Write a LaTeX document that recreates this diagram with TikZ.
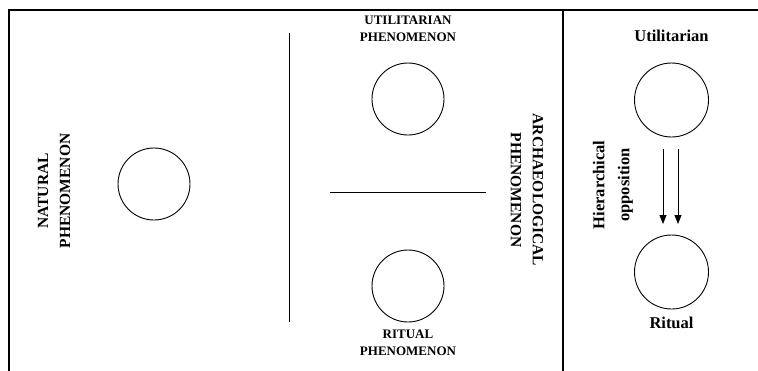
\documentclass[tikz,border=0pt]{standalone}
\usepackage{fontspec}
\setmainfont{Liberation Serif}
\usetikzlibrary{arrows.meta}
\begin{document}
\begin{tikzpicture}[x=1pt,y=-1pt,
  circ/.style={draw, circle, minimum size=72pt, inner sep=0pt, line width=0.9pt},
  caps/.style={font=\bfseries\fontsize{13}{17}\selectfont, align=center, inner sep=0pt},
  vcap/.style={font=\bfseries\fontsize{15.5}{22}\selectfont, align=center, inner sep=0pt},
  big/.style={font=\bfseries\fontsize{16.5}{25}\selectfont, align=center, inner sep=0pt},
  frame/.style={line width=1.6pt},
  thin/.style={line width=0.9pt},
  arr/.style={line width=0.9pt, -{Triangle[length=9pt,width=7pt]}}]
\useasboundingbox (0,0) rectangle (758,370);
% frame
\coordinate (ftl) at (9,10);
\coordinate (fbl) at (9,372);
\coordinate (ftr) at (760,10);
\coordinate (dt) at (563,10);
\coordinate (db) at (563,372);
\draw[frame] (fbl) -- (ftl) -- (ftr);
\draw[line width=2pt] (dt) -- (db);
% separators
\coordinate (vt) at (289,33);
\coordinate (vb) at (289,322);
\coordinate (hl) at (330,192);
\coordinate (hr) at (486,192);
\draw[thin] (vt) -- (vb);
\draw[thin] (hl) -- (hr);
% circles
\node[circ] (nat) at (154,184) {};
\node[circ] (util) at (408,99) {};
\node[circ] (rit) at (408,286) {};
\node[circ, minimum size=74pt] (ru) at (671.5,100) {};
\node[circ, minimum size=74pt] (rr) at (671.5,272) {};
% labels
\node[caps] (lutil) at (408,28.5) {UTILITARIAN\\PHENOMENON};
\node[caps] (lrit) at (408,343) {RITUAL\\PHENOMENON};
\node[vcap, rotate=90] (lnat) at (54,191) {NATURAL\\PHENOMENON};
\node[vcap, rotate=-90] (larch) at (527,190) {ARCHAEOLOGICAL\\PHENOMENON};
\node[big, rotate=90] (lhier) at (613,185) {Hierarchical\\opposition};
\node[big] (lru) at (671.5,36) {Utilitarian};
\node[big] (lrr) at (671.5,323) {Ritual};
% arrows
\coordinate (a1s) at (663,149);
\coordinate (a1e) at (663,224);
\coordinate (a2s) at (678,149);
\coordinate (a2e) at (678,224);
\draw[arr] (a1s) -- (a1e);
\draw[arr] (a2s) -- (a2e);
\end{tikzpicture}
\end{document}
